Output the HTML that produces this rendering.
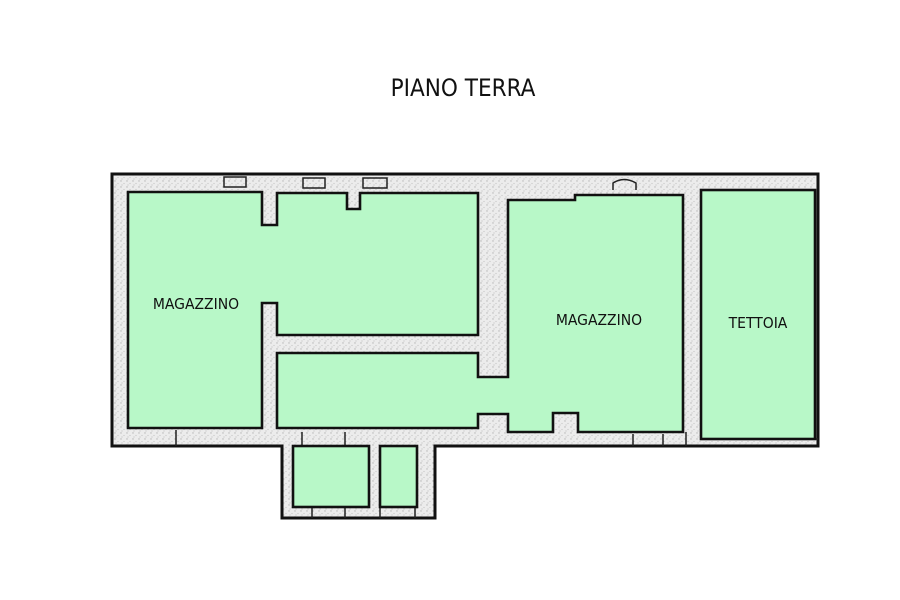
<!DOCTYPE html>
<html><head><meta charset="utf-8"><style>
html,body{margin:0;padding:0;background:#fff;width:900px;height:600px;overflow:hidden}
text{font-family:"DejaVu Sans Condensed","Liberation Sans",sans-serif;fill:#111}
</style></head><body>
<svg width="900" height="600" viewBox="0 0 900 600" xmlns="http://www.w3.org/2000/svg">
<defs>
<pattern id="sp" width="6" height="6" patternUnits="userSpaceOnUse">
<rect width="6" height="6" fill="#ececec"/>
<circle cx="1" cy="1" r="0.7" fill="#b5b5b5"/><circle cx="4" cy="3.5" r="0.6" fill="#c4c4c4"/><circle cx="2" cy="5" r="0.5" fill="#aaa"/>
</pattern>
</defs>
<text x="463" y="96" font-size="24" text-anchor="middle">PIANO TERRA</text>
<path d="M112,174 L818,174 L818,446 L435,446 L435,518 L282,518 L282,446 L112,446 Z" fill="url(#sp)" stroke="#111" stroke-width="3"/>
<g fill="none" stroke="#222" stroke-width="1.5">
<rect x="224" y="177" width="22" height="10"/>
<rect x="303" y="178" width="22" height="10"/>
<rect x="363" y="178" width="24" height="10"/>
<path d="M613,190 L613,183 Q624,176 636,183 L636,190"/>
<line x1="176" y1="430" x2="176" y2="446"/>
<line x1="302" y1="446" x2="302" y2="432"/><line x1="345" y1="446" x2="345" y2="432"/>
<line x1="633" y1="434" x2="633" y2="446"/><line x1="663" y1="434" x2="663" y2="446"/>
<line x1="312" y1="507" x2="312" y2="518"/><line x1="345" y1="507" x2="345" y2="518"/><line x1="380" y1="507" x2="380" y2="518"/><line x1="415" y1="507" x2="415" y2="518"/>
<line x1="686" y1="432" x2="686" y2="446"/><line x1="700" y1="439" x2="818" y2="439"/>
</g>
<g fill="#b8f8c8" stroke="#111" stroke-width="2.6" stroke-linejoin="miter">
<path d="M128,192 L262,192 L262,225 L277,225 L277,193 L347,193 L347,209 L360,209 L360,193 L478,193 L478,335 L277,335 L277,303 L262,303 L262,428 L128,428 Z"/>
<path d="M277,353 L478,353 L478,377 L508,377 L508,200 L575,200 L575,195 L683,195 L683,432 L578,432 L578,413 L553,413 L553,432 L508,432 L508,414 L478,414 L478,428 L277,428 Z"/>
<rect x="701" y="190" width="114" height="249"/>
<rect x="293" y="446" width="76" height="61"/>
<rect x="380" y="446" width="37" height="61"/>
</g>
<text x="196" y="309" font-size="15.5" text-anchor="middle">MAGAZZINO</text>
<text x="599" y="325" font-size="15.5" text-anchor="middle">MAGAZZINO</text>
<text x="758" y="328" font-size="15.5" text-anchor="middle">TETTOIA</text>
</svg>
</body></html>
